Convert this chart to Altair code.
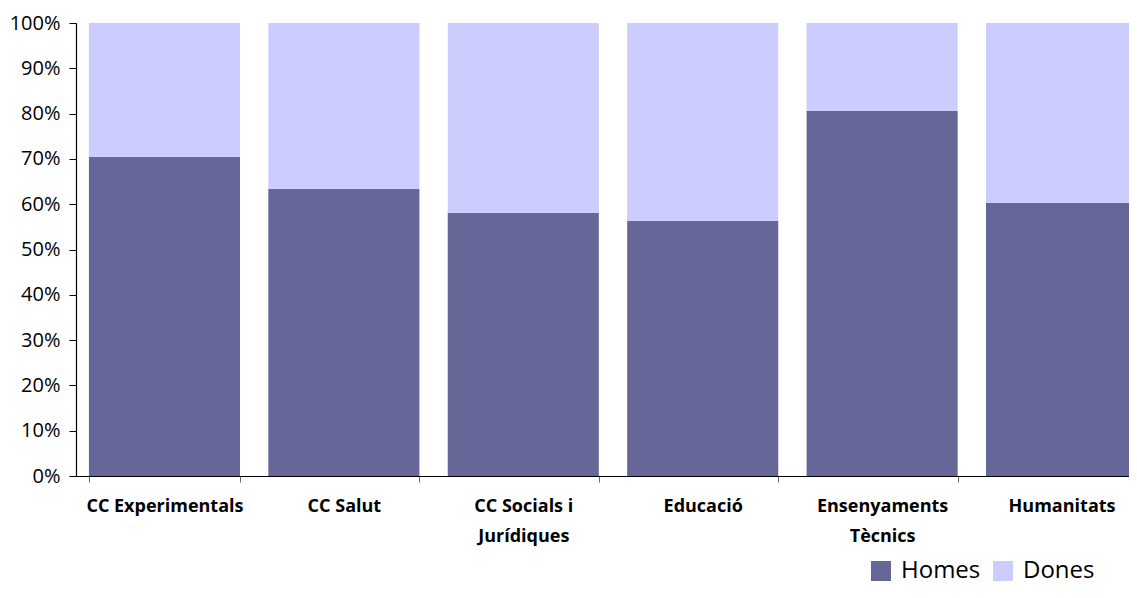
import altair as alt
import pandas as pd

categories = ["CC Experimentals", "CC Salut", "CC Socials i|Jurídiques", "Educació",
              "Ensenyaments|Tècnics", "Humanitats"]
homes = [70.5, 63.4, 58.1, 56.3, 80.6, 60.3]
dones = [100 - h for h in homes]
series = ["Homes", "Dones"]
colors = ["#666699", "#CCCCFF"]
y_ticks = [0, 0.1, 0.2, 0.3, 0.4, 0.5, 0.6, 0.7, 0.8, 0.9, 1.0]

rows = []
for c, h, d in zip(categories, homes, dones):
    rows.append({"cat": c, "serie": "Homes", "val": h, "ord": 0})
    rows.append({"cat": c, "serie": "Dones", "val": d, "ord": 1})
df = pd.DataFrame(rows)

FONT = "Open Sans"

chart = alt.Chart(df).mark_bar().encode(
    x=alt.X("cat:N", sort=categories, title=None,
            scale=alt.Scale(paddingInner=0.158, paddingOuter=0.072, range=[0, 1074]),
            axis=alt.Axis(labelAngle=0, labelExpr="split(datum.label, '|')",
                          labelFont=FONT, labelFontSize=18, labelFontWeight="bold",
                          labelColor="#000000", labelLineHeight=30, labelPadding=15,
                          labelBaseline="top",
                          tickBand="extent", tickSize=6, tickColor="#666666",
                          domainColor="#000000", domainWidth=1.2, grid=False)),
    y=alt.Y("val:Q", stack="normalize", title=None,
            scale=alt.Scale(domain=[0, 1], nice=False),
            axis=alt.Axis(values=y_ticks, format=".0%", labelFont=FONT,
                          labelFontSize=20, labelColor="#000000", labelPadding=9,
                          tickSize=7, tickColor="#000000", domainColor="#000000",
                          domainWidth=1.2, grid=False)),
    color=alt.Color("serie:N", sort=series, title=None,
                    scale=alt.Scale(domain=series, range=colors),
                    legend=alt.Legend(orient="none", legendX=793, legendY=536,
                                      direction="horizontal", symbolType="square",
                                      symbolSize=400, symbolStrokeWidth=0,
                                      labelFont=FONT, labelFontSize=24,
                                      labelColor="#000000", labelOffset=8,
                                      columnPadding=10)),
    order=alt.Order("ord:Q", sort="ascending"),
).properties(
    width=1053, height=453,
    autosize=alt.AutoSizeParams(type="none"),
    padding={"left": 68, "top": 15, "right": 0, "bottom": 110},
).configure_view(stroke=None)

chart.save("out.html", embed_options={"renderer": "svg", "actions": False})
